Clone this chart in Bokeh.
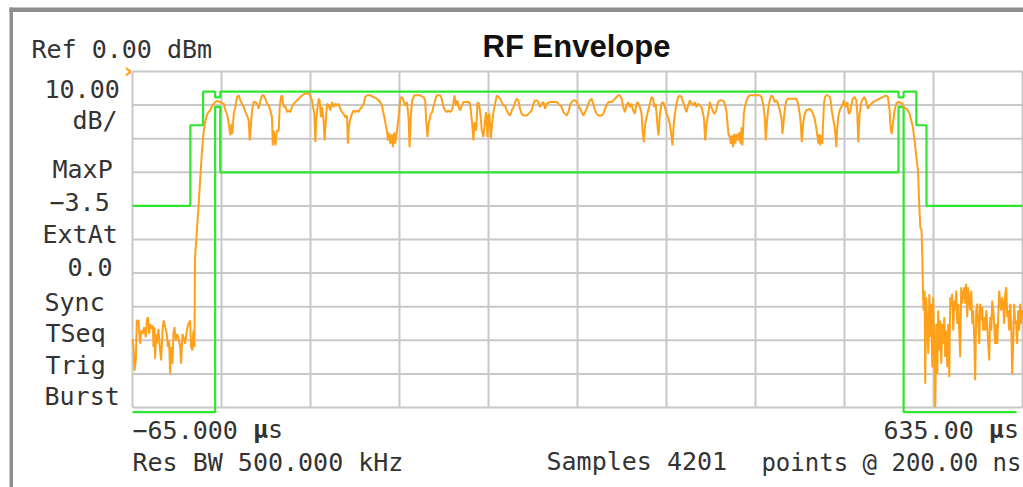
from bokeh.plotting import figure
from bokeh.models import Label, BoxAnnotation, Range1d
from bokeh.embed import file_html
from bokeh.resources import INLINE

# ---------------- data (time in µs, level in dB) ----------------
grid_t = [-65, 5, 75, 145, 215, 285, 355, 425, 495, 565, 635]
grid_db = [0, -10, -20, -30, -40, -50, -60, -70, -80, -90, -100]

upper_mask_t = [-65, -19.5, -19.5, -9.5, -9.5, 0, 0, 4, 4, 537.5, 537.5, 541.5, 541.5, 551.5, 551.5, 559.5, 559.5, 635]
upper_mask_db = [-40, -40, -16, -16, -6, -6, -7.7, -7.7, -6, -6, -7.7, -7.7, -6, -6, -16, -16, -40, -40]

lower_mask_t = [-65, 0, 0, 4, 4, 537.5, 537.5, 541.5, 541.5, 630.3]
lower_mask_db = [-101.4, -101.4, -10.5, -10.5, -30, -30, -10.5, -10.5, -101.4, -101.4]

pre_t = [-65.0, -64.2, -63.4, -62.4, -61.6, -60.3, -59.0, -58.2, -57.1, -55.8, -54.5, -53.7, -52.9, -51.9, -51.1,
         -49.8, -49.0, -48.5, -47.7, -47.2, -46.4, -45.6, -44.6, -43.3, -42.5, -41.2, -40.4, -39.3, -38.0, -37.2,
         -36.2, -35.4, -34.6, -33.6, -32.8, -32.0, -30.9, -30.2, -28.9, -27.5, -26.8, -25.7, -24.9, -23.6, -22.3,
         -21.0, -19.7, -18.9, -17.9, -17.1]
pre_db = [-79.6, -82.0, -89.0, -86.0, -74.1, -74.1, -81.0, -77.1, -78.1, -76.1, -79.1, -74.1, -73.1, -78.1, -75.1,
          -76.6, -75.6, -82.0, -76.1, -85.5, -78.1, -81.0, -76.6, -83.0, -86.0, -76.1, -74.1, -76.1, -78.1, -82.0,
          -80.1, -90.0, -82.0, -87.0, -78.1, -76.1, -80.1, -78.1, -79.1, -82.0, -87.0, -78.1, -79.1, -81.0, -77.1,
          -75.1, -74.1, -82.0, -83.0, -77.1]

rise_t = [-16.3, -15.8, -14.5, -13.1, -11.8, -10.5, -9.2, -7.9, -6.6, -5.3, -4.0, -2.7, -1.4, 0.0, 1.3, 3.9]
rise_db = [-82.0, -55.2, -48.3, -40.4, -32.4, -24.5, -18.5, -15.1, -13.1, -12.1, -11.6, -10.6, -9.8, -9.1, -8.8, -9.1]

burst_t = [6.8, 8.1, 9.4, 10.7, 12.0, 12.8, 13.6, 14.6, 15.9, 17.2, 18.5, 19.9, 21.2, 22.5, 23.8, 25.1, 26.4, 27.2,
           28.2, 29.0, 30.3, 31.6, 33.0, 34.3, 35.6, 36.9, 38.2, 39.5, 40.8, 42.1, 43.4, 44.7, 45.3, 46.0, 47.4,
           48.7, 50.0, 50.8, 51.8, 52.6, 53.4, 54.4, 55.5, 56.5, 57.8, 59.1, 60.4, 61.8, 64.4, 67.0, 69.6, 72.2,
           74.3, 76.2, 77.0, 78.0, 78.8, 79.6, 80.6, 81.4, 82.2, 83.2, 84.0, 85.3, 86.1, 86.9, 88.0, 89.3, 90.6,
           91.9, 93.2, 94.5, 95.8, 97.1, 98.4, 99.7, 101.0, 102.3, 103.7, 104.4, 105.2, 106.3, 107.6, 108.9, 110.2,
           111.5, 112.8, 114.1, 115.4, 116.8, 118.1, 119.4, 122.0, 124.6, 127.2, 129.8, 131.2, 132.5, 133.8, 135.1,
           135.9, 136.7, 137.7, 139.0, 139.8, 140.9, 141.6, 143.0, 144.3, 145.6, 146.9, 148.2, 149.5, 150.8, 152.1,
           152.9, 154.0, 155.0, 156.6, 158.7,
           161.3, 163.9, 165.2, 166.0, 167.0, 167.8, 168.6, 169.6, 170.7, 171.7, 173.0, 174.4, 177.0, 178.3, 179.6,
           180.9, 182.2, 183.5, 184.8, 186.1, 187.4, 188.2, 189.5, 190.6, 191.4, 192.7, 194.0, 195.3, 196.6, 199.2,
           200.5, 201.9, 203.2, 204.0, 205.3, 206.3, 207.1, 207.9, 208.9, 209.7, 211.0, 212.1, 213.1, 214.2, 214.9,
           215.7, 216.8, 217.8, 218.9, 220.2, 221.5, 222.8, 224.1, 225.4, 226.7, 228.0, 229.4, 230.7, 232.0, 233.3,
           234.6, 235.9, 237.2, 238.5, 239.8, 241.1, 242.4, 245.1, 246.4, 247.7, 249.0, 250.3, 251.6, 252.9, 254.2,
           255.5, 256.9, 258.2, 259.5, 260.8, 263.4, 268.6, 271.3, 272.6, 273.9, 275.2, 276.5, 277.8, 279.1, 280.4,
           281.7, 283.0, 284.4, 285.7, 287.0, 288.3, 289.6, 290.9, 292.2, 293.5, 294.8, 296.1, 297.4, 298.8, 300.1,
           301.4, 304.0, 305.3, 306.6, 307.9, 309.2, 311.9, 313.2, 314.5, 315.8,
           317.0, 318.4, 319.7, 321.0, 322.3, 323.6, 324.9, 326.2, 327.5, 328.8, 330.1, 330.9, 332.0, 333.0, 334.1,
           335.4, 336.2, 337.2, 338.3, 339.3, 340.6, 341.9, 343.2, 344.5, 345.3, 346.4, 347.2, 348.0, 348.7, 349.8,
           351.1, 352.4, 353.7, 355.0, 356.3, 357.6, 359.0, 359.7, 360.5, 361.6, 362.9, 364.2, 365.5, 366.8, 368.1,
           369.4, 370.7, 372.0, 373.4, 374.7, 376.0, 377.3, 378.6, 379.9, 381.2, 382.5, 383.8, 384.6, 385.4, 386.5,
           387.8, 389.1, 390.4, 391.7, 393.0, 394.3, 395.6, 396.9, 399.5, 400.9, 402.2, 403.0, 403.7, 404.8, 405.6,
           406.4, 407.4, 408.2, 409.2, 410.0, 411.3, 412.1, 413.2, 414.0, 414.7, 415.8, 416.6, 417.9, 419.2, 420.5,
           428.4, 429.7, 431.0, 432.3, 433.1, 434.1, 435.2, 436.2, 437.5, 438.8, 440.1, 441.5, 442.8, 444.1, 445.4,
           446.2, 447.2, 448.3, 449.3, 450.6, 457.2, 458.5, 459.8, 460.6, 461.4, 462.4, 463.7, 465.0, 467.6, 469.0,
           470.3, 471.6, 472.9, 474.2,
           474.4, 475.2, 476.0, 476.8, 477.6, 478.1, 478.9, 479.6, 480.7, 482.0, 483.3, 484.1, 484.9, 485.9, 487.2,
           488.0, 488.6, 489.3, 490.1, 491.2, 492.5, 493.8, 494.6, 495.4, 496.4, 497.2, 498.0, 499.0, 500.3, 501.6,
           503.0, 504.3, 505.1, 505.8, 506.9, 508.2, 509.5, 510.8, 512.1, 513.4, 514.7, 516.1, 517.4, 520.0, 522.6,
           525.2, 527.8, 529.1, 530.5, 531.2, 532.0, 533.1, 534.4, 535.7, 537.0, 538.3, 540.9]
burst_db = [-9.6, -11.6, -12.6, -15.6, -19.0, -15.6, -18.6, -12.6, -10.6, -7.6, -7.1, -8.6, -9.6, -10.6, -12.1, -13.1,
            -14.6, -20.5, -15.6, -11.6, -9.1, -9.1, -9.6, -11.1, -8.6, -7.1, -7.1, -8.1, -9.6, -10.1, -11.6, -13.6,
            -22.0, -17.6, -22.0, -17.6, -17.6, -10.6, -7.6, -7.1, -9.6, -10.6, -10.6, -12.1, -11.6, -12.1, -10.6,
            -9.6, -8.6, -7.6, -6.8, -6.4, -6.8, -8.6, -10.6, -12.6, -21.0, -13.6, -10.6, -8.1, -8.6, -13.6, -10.6,
            -14.6, -20.5, -15.6, -9.6, -10.1, -11.6, -9.1, -10.6, -9.6, -10.1, -9.6, -11.1, -12.1, -12.6, -13.6,
            -13.1, -21.5, -16.6, -14.1, -12.6, -11.6, -12.1, -11.6, -12.1, -11.1, -10.6, -9.6, -7.6, -7.1, -7.1,
            -7.6, -8.1, -9.1, -10.1, -12.6, -15.1, -17.6, -20.5, -18.1, -21.5, -18.6, -22.5, -18.1, -21.5, -17.6,
            -13.6, -8.1, -7.6, -8.6, -10.1, -9.1, -13.6, -22.5, -12.6, -8.6, -7.1, -7.1,
            -7.1, -7.6, -8.6, -14.6, -19.5, -15.6, -14.6, -12.6, -12.1, -10.6, -8.6, -7.1, -7.1, -8.1, -10.6, -11.6,
            -12.1, -11.6, -12.1, -11.6, -9.6, -7.1, -10.1, -8.6, -10.6, -11.6, -10.1, -9.1, -9.1, -9.1, -9.6, -14.6,
            -20.5, -15.1, -17.6, -9.6, -9.1, -10.6, -13.6, -17.6, -19.5, -15.1, -12.1, -19.5, -13.1, -12.6, -20.0,
            -15.6, -12.1, -9.6, -7.1, -7.6, -8.1, -9.1, -10.1, -10.1, -11.6, -12.6, -13.1, -11.6, -10.6, -9.1, -8.1,
            -8.6, -11.1, -12.6, -13.1, -13.1, -12.6, -12.1, -11.6, -9.6, -8.6, -8.6, -9.1, -10.6, -9.6, -9.1, -11.1,
            -9.6, -9.1, -9.1, -10.1, -10.6, -12.1, -12.6, -13.1, -12.1, -10.1, -9.1, -8.6, -8.6, -9.1, -10.1, -11.1,
            -12.1, -13.1, -12.1, -11.1, -9.6, -8.6, -8.1, -9.6, -11.6, -12.6, -13.1, -13.1, -12.6, -11.1, -10.1,
            -9.1, -9.1, -8.6, -8.1, -7.6,
            -7.1, -7.1, -8.1, -10.6, -12.1, -10.1, -9.1, -10.6, -9.6, -11.6, -12.6, -10.6, -9.1, -9.6, -10.6, -12.6,
            -17.6, -21.0, -15.6, -13.6, -11.6, -9.6, -7.6, -8.1, -10.6, -9.6, -12.6, -16.6, -19.0, -12.6, -9.6, -9.1,
            -10.6, -12.6, -13.6, -15.6, -19.5, -22.0, -16.6, -12.6, -9.6, -7.6, -7.1, -7.6, -9.1, -10.6, -12.1,
            -10.1, -8.6, -9.6, -10.1, -9.1, -10.6, -9.6, -10.1, -10.6, -12.6, -14.6, -20.5, -15.6, -12.6, -9.1,
            -10.6, -12.1, -12.6, -11.1, -9.1, -8.6, -8.6, -9.6, -12.1, -15.6, -18.6, -19.5, -21.5, -19.0, -22.5,
            -18.6, -21.5, -18.6, -20.5, -18.1, -21.5, -16.6, -22.0, -12.6, -10.6, -8.6, -7.6, -7.1, -7.1, -7.6,
            -9.6, -13.6, -20.5, -14.6, -10.6, -8.6, -7.1, -7.6, -9.1, -8.6, -9.6, -11.6, -13.6, -18.6, -14.6, -10.6,
            -8.6, -8.1, -8.1, -9.6, -12.6, -15.6, -21.0, -15.6, -12.6, -11.6, -11.1, -11.6, -12.6, -14.1, -17.1,
            -20.5,
            -21.5, -18.6, -22.0, -19.0, -21.5, -15.6, -9.6, -7.6, -7.1, -7.1, -7.6, -8.6, -11.6, -13.6, -16.6, -19.5,
            -22.5, -16.6, -13.6, -11.6, -10.6, -9.6, -8.6, -10.1, -10.6, -9.1, -12.1, -12.6, -10.1, -8.1, -7.6,
            -8.6, -12.6, -21.0, -12.6, -9.1, -8.1, -7.6, -9.1, -11.1, -10.1, -9.6, -9.1, -8.6, -8.1, -7.6, -7.1,
            -7.6, -11.6, -16.6, -18.6, -15.6, -11.6, -9.6, -9.1, -9.1, -9.6]

fall_t = [541.5, 543.6, 544.9, 546.2, 547.5, 548.8, 550.1, 551.5, 552.8, 553.5, 554.6, 555.6, 556.2, 556.7, 557.2]
fall_db = [-10.6, -11.1, -11.6, -12.6, -14.6, -16.6, -20.5, -25.5, -29.5, -37.4, -46.3, -47.3, -55.3, -65.2, -71.1]

post_t = [558.0, 558.5, 559.3, 560.1, 560.9, 561.7, 562.5, 563.2, 564.0, 564.8, 565.6, 566.4, 567.2, 568.0, 568.7,
          569.5, 570.3, 571.1, 571.9, 572.7, 573.5, 574.2, 575.0, 575.8, 576.6, 577.4, 578.2, 579.0, 579.7, 580.5,
          581.3, 582.1, 582.9, 583.7, 584.5, 585.2, 586.0, 586.8, 587.6, 588.4, 589.2, 590.0, 590.7, 591.5, 592.3,
          593.1, 593.9, 594.7, 595.5, 596.2, 597.0, 597.8, 598.6, 599.4, 600.2, 601.0, 601.7, 602.5, 603.3, 604.1,
          604.9, 605.7, 606.5, 607.2, 608.0, 608.8, 609.6, 610.4, 611.2, 612.0, 612.7, 613.5, 614.3, 615.1, 615.9,
          616.7, 617.5, 618.2, 619.0, 619.8, 620.6, 621.4, 622.2, 623.0, 623.7, 624.5, 625.3, 626.1, 626.9, 627.7,
          628.5, 629.2, 630.0, 630.8, 631.6, 632.4, 633.2, 634.0, 635.0]
post_db = [-65.2, -92.9, -67.2, -75.1, -84.0, -66.2, -79.1, -69.1, -88.0, -67.2, -81.1, -99.9, -75.1, -90.0, -71.1,
           -83.0, -74.1, -87.0, -75.1, -81.1, -73.1, -85.0, -77.1, -88.0, -75.1, -91.0, -67.2, -70.1, -66.2, -77.1,
           -68.2, -71.1, -65.2, -75.1, -69.1, -77.1, -85.0, -64.2, -69.1, -66.2, -64.2, -69.1, -63.2, -73.1, -64.2,
           -68.2, -71.1, -65.2, -75.1, -71.1, -79.1, -91.9, -71.1, -69.1, -75.1, -81.1, -69.1, -74.1, -70.1, -77.1,
           -73.1, -77.1, -71.1, -75.1, -81.1, -86.0, -73.1, -77.1, -68.2, -71.1, -75.1, -81.1, -75.1, -81.1, -73.1,
           -65.2, -69.1, -71.1, -67.2, -69.1, -75.1, -66.2, -64.2, -73.1, -71.1, -77.1, -69.1, -75.1, -90.0, -81.1,
           -69.1, -75.1, -74.1, -81.1, -71.1, -77.1, -69.1, -75.1, -71.1]

trace_t = pre_t + rise_t + burst_t + fall_t + post_t
trace_db = pre_db + rise_db + burst_db + fall_db + post_db

# ---------------- layout: the frame fills the whole canvas ----------------
W, H = 1023, 487
SX = 890.0 / 700.0          # px per µs  (-65 µs at px 132, 635 µs at px 1022)
SY = 336.0 / 100.0          # px per dB  (0 dB at px 71, -100 dB at px 407)
x0 = -65.0 - 132.0 / SX
x1 = x0 + W / SX
y1 = 0.0 + 71.0 / SY
y0 = y1 - H / SY


def X(ix):  # page pixel -> data x
    return x0 + ix / SX


def Y(iy):  # page pixel -> data y
    return y1 - iy / SY


p = figure(width=W, height=H, x_range=Range1d(x0, x1), y_range=Range1d(y0, y1),
           output_backend="svg", toolbar_location=None,
           x_axis_location=None, y_axis_location=None,
           min_border=0, min_border_left=0, min_border_right=0, min_border_top=0, min_border_bottom=0,
           background_fill_color="white", border_fill_color="white", outline_line_color=None)
p.xgrid.visible = False
p.ygrid.visible = False

GRID = "#c8c8c8"
p.segment(x0=grid_t, y0=grid_db[-1], x1=grid_t, y1=grid_db[0], line_color=GRID, line_width=2)
p.segment(x0=grid_t[0], y0=grid_db, x1=grid_t[-1], y1=grid_db, line_color=GRID, line_width=2)

GREEN = "#2fe62f"
ORANGE = "#ffa01a"
p.line(upper_mask_t, upper_mask_db, line_color=GREEN, line_width=2.2)
p.line(lower_mask_t, lower_mask_db, line_color=GREEN, line_width=2.2)
p.line(trace_t, trace_db, line_color=ORANGE, line_width=2)

# bezel (top and left edge of the instrument screen)
p.add_layout(BoxAnnotation(left=X(9), right=X(1040), top=Y(7), bottom=Y(11.5),
                           fill_color="#8e8e8e", fill_alpha=1, line_color=None))
p.add_layout(BoxAnnotation(left=X(9), right=X(12.5), top=Y(7), bottom=Y(500),
                           fill_color="#8e8e8e", fill_alpha=1, line_color=None))

MONO = "DejaVu Sans Mono"
TXT = "#333333"
FS = 25
ADV = 0.602 * FS


def lab(text, ix, iy, align="left", size=FS, bold=False, font=MONO, color=TXT, baseline="alphabetic"):
    p.add_layout(Label(x=X(ix), y=Y(iy), text=text, text_align=align, text_baseline=baseline,
                       text_font=font, text_font_size=f"{size}px", text_color=color,
                       text_font_style="bold" if bold else "normal"))


# (iy values are the visual text centres observed in the reference)
lab("Ref 0.00 dBm", 31, 49)
lab("10.00", 44, 88)
lab("dB/", 72, 120)
lab("MaxP", 52, 169)
lab("\u22123.5", 49, 201)
lab("ExtAt", 42, 234)
lab("0.0", 67, 266)
lab("Sync", 44, 302)
lab("TSeq", 45, 333)
lab("Trig", 45, 365)
lab("Burst", 44, 396)

lab("\u221265.000", 132, 429)
lab("\u00b5", 132 + 8 * ADV, 429, bold=True)
lab("s", 132 + 9 * ADV, 429)
lab("Res BW 500.000 kHz", 132, 462)
lab("Samples 4201", 546, 461)
lab("635.00", 883, 429)
lab("\u00b5", 883 + 7 * ADV, 429, bold=True)
lab("s", 883 + 8 * ADV, 429)
lab("points @ 200.00 ns", 1021, 462, align="right", size=24)

lab("RF Envelope", 576, 46, align="center", size=31, bold=True, font="Liberation Sans", color="#111111")
# reference-level marker
lab("\u203a", 128, 70, align="center", size=22, bold=True, font="DejaVu Sans", color=ORANGE)

open("out.html", "w").write(file_html(p, INLINE))
